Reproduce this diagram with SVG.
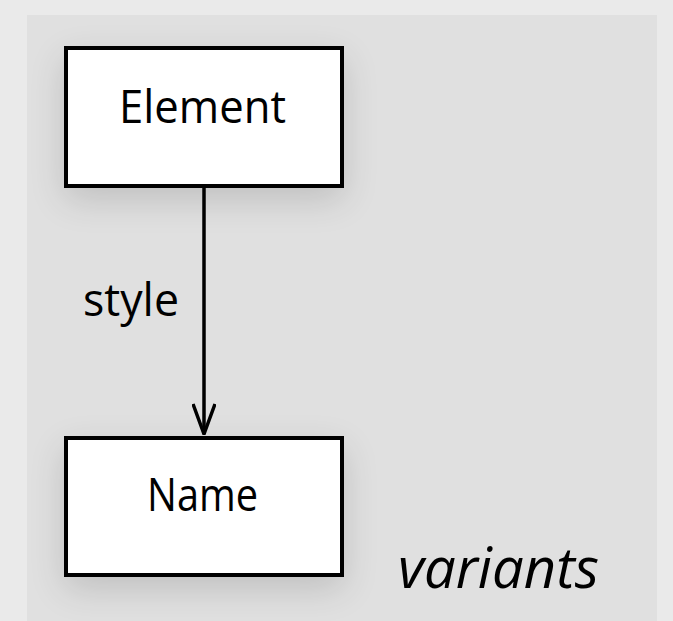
<svg xmlns="http://www.w3.org/2000/svg" width="673" height="621" viewBox="0 0 673 621">
  <defs>
    <filter id="shadow" x="-40%" y="-40%" width="180%" height="200%">
      <feGaussianBlur in="SourceAlpha" stdDeviation="18"/>
      <feOffset dx="0" dy="12" result="b"/>
      <feComponentTransfer><feFuncA type="linear" slope="0.15"/></feComponentTransfer>
      <feMerge><feMergeNode/><feMergeNode in="SourceGraphic"/></feMerge>
    </filter>
    <marker id="arrow" viewBox="0 0 32 24" refX="31" refY="12" markerWidth="32" markerHeight="24" markerUnits="userSpaceOnUse" orient="auto">
      <path d="M1,1 L31,12 L1,23" fill="none" stroke="#000" stroke-width="3.5"/>
    </marker>
  </defs>
  <style>
    .box { fill: #ffffff; stroke: #000000; stroke-width: 4; }
    .lbl { font-family: "Open Sans", "Noto Sans", sans-serif; font-size: 46px; fill: #000; }
    .edge { stroke: #000; stroke-width: 3.5; fill: none; }
  </style>
  <rect x="0" y="0" width="673" height="621" fill="#eaeaea"/>
  <rect x="27" y="15" width="630" height="606" fill="#e0e0e0"/>
  <g id="connectors">
    <line class="edge" x1="204" y1="187" x2="204" y2="434" marker-end="url(#arrow)"/>
    <text class="lbl" x="83" y="316" textLength="96" lengthAdjust="spacingAndGlyphs">style</text>
  </g>
  <g id="node-element">
    <rect class="box" x="66" y="48" width="276" height="138" filter="url(#shadow)"/>
    <text class="lbl" x="119" y="123" textLength="167" lengthAdjust="spacingAndGlyphs">Element</text>
  </g>
  <g id="node-name">
    <rect class="box" x="66" y="438" width="276" height="137" filter="url(#shadow)"/>
    <text class="lbl" x="147" y="511" textLength="111" lengthAdjust="spacingAndGlyphs">Name</text>
  </g>
  <text x="398" y="588" font-family="Open Sans, Noto Sans, sans-serif" font-style="italic" font-size="57" textLength="201" lengthAdjust="spacingAndGlyphs" fill="#000">variants</text>
</svg>
